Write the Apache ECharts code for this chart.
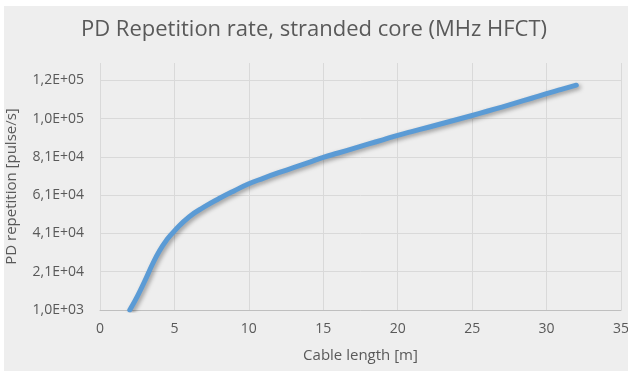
<!DOCTYPE html>
<html>
<head>
<meta charset="utf-8">
<script src="https://cdn.jsdelivr.net/npm/echarts@6/dist/echarts.min.js"></script>
<style>
  html, body { margin: 0; padding: 0; background: #ffffff; }
  #panel { position: absolute; left: 4px; top: 6px; right: 0; bottom: 0; background: #eeeeee; }
  #chart { position: absolute; left: 0; top: 0; width: 628px; height: 371px; }
</style>
</head>
<body>
<div id="panel"></div>
<div id="chart"></div>
<script>
// Cable length [m]
const cableLength = [2, 2.5, 3, 3.5, 4, 4.5, 5, 6, 7, 8, 9, 10, 11, 12, 13, 14, 15, 16, 17, 18, 19, 20,
                     21, 22, 23, 24, 25, 26, 27, 28, 29, 30, 31, 32];
// PD repetition [pulse/s]
const repetition = [1000, 8000, 16000, 24500, 32000, 37800, 42300, 49700, 54800, 59200, 63200, 66900, 69900,
                    72700, 75300, 78000, 80700, 83000, 85300, 87600, 89900, 92200, 94300,
                    96300, 98400, 100500, 102600, 104800, 107000, 109300, 111600, 114000,
                    116200, 118400];

const titleText = 'PD Repetition rate, stranded core (MHz HFCT)';
const xTitle = 'Cable length [m]';
const yTitle = 'PD repetition [pulse/s]';

// Excel-style scientific label with decimal comma, e.g. 1,2E+05
function sci(v) {
  const s = Number(v).toExponential(1);
  const parts = s.split('e');
  const mant = parts[0].replace('.', ',');
  const exp = parseInt(parts[1], 10);
  const sign = exp < 0 ? '-' : '+';
  const e = String(Math.abs(exp)).padStart(2, '0');
  return mant + 'E' + sign + e;
}

const textColor = '#595959';
const font = 'Open Sans';

const chart = echarts.init(document.getElementById('chart'), null, { renderer: 'canvas' });
chart.setOption({
  backgroundColor: 'transparent',
  animation: false,
  title: {
    text: titleText,
    left: 'center',
    top: 14,
    textStyle: { fontFamily: font, fontSize: 22, fontWeight: 'normal', color: textColor }
  },
  grid: { left: 100, right: 7, top: 63, bottom: 61, containLabel: false, outerBoundsMode: 'none' },
  xAxis: {
    type: 'value',
    min: 0, max: 35, interval: 5,
    name: xTitle,
    nameLocation: 'middle',
    nameGap: 38,
    nameTextStyle: { fontFamily: font, fontSize: 15, color: textColor },
    axisLine: { show: true, lineStyle: { color: '#bfbfbf', width: 1 } },
    axisTick: { show: false },
    axisLabel: { fontFamily: font, fontSize: 14, color: textColor, margin: 12 },
    splitLine: { show: true, lineStyle: { color: '#d9d9d9', width: 1 } }
  },
  yAxis: {
    type: 'value',
    min: 1000, max: 130000, interval: 20000,
    name: yTitle,
    nameLocation: 'middle',
    nameGap: 81,
    nameTextStyle: { fontFamily: font, fontSize: 15, color: textColor },
    axisLine: { show: false },
    axisTick: { show: false },
    axisLabel: {
      fontFamily: font, fontSize: 14, color: textColor, margin: 16,
      showMaxLabel: false,
      formatter: sci
    },
    splitLine: { show: true, showMaxLine: false, lineStyle: { color: '#d9d9d9', width: 1 } }
  },
  series: [{
    type: 'line',
    data: cableLength.map((x, i) => [x, repetition[i]]),
    smooth: 0.5,
    showSymbol: false,
    symbol: 'none',
    lineStyle: {
      color: '#5b9bd5',
      width: 5,
      cap: 'round',
      join: 'round',
      shadowColor: 'rgba(0,0,0,0.35)',
      shadowBlur: 4,
      shadowOffsetX: 2,
      shadowOffsetY: 2
    }
  }]
});
</script>
</body>
</html>
